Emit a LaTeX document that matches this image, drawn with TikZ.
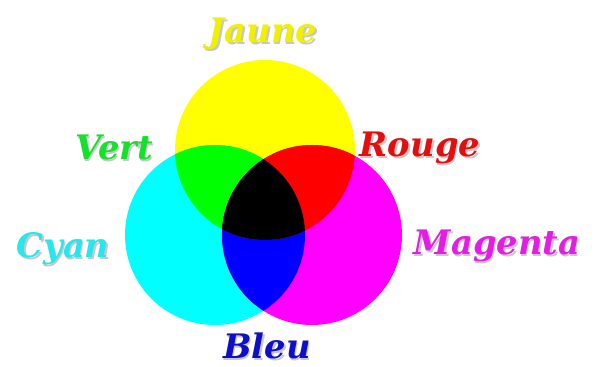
\documentclass[tikz,border=0pt]{standalone}
\usepackage{fontspec}
\usepackage{xcolor}
\usepackage{tikz}
\newfontfamily\lblfont{DejaVu Serif}
\definecolor{jau}{RGB}{255,255,0}
\definecolor{cya}{RGB}{0,255,255}
\definecolor{mag}{RGB}{255,0,255}
\definecolor{ver}{RGB}{0,255,0}
\definecolor{rou}{RGB}{255,0,0}
\definecolor{ble}{RGB}{0,0,255}
\tikzset{
  lbl/.style={anchor=base,inner sep=0pt,font=\lblfont\bfseries\itshape\fontsize{24}{24}\selectfont}
}
\newcommand{\shd}[1]{\makebox[0pt][l]{\kern1.1pt\raisebox{-1.1pt}{\textcolor{black!22}{#1}}}#1}
\newcommand{\rY}{(265,217) circle (90)}
\newcommand{\rC}{(215,132) circle (90)}
\newcommand{\rM}{(312,132) circle (90)}

\begin{document}
\begin{tikzpicture}[x=0.025cm,y=0.025cm]
\useasboundingbox (0,0) rectangle (600,367);
\fill[jau] \rY; \fill[cya] \rC; \fill[mag] \rM;
\begin{scope} \clip \rC; \fill[ver] \rY; \fill[ble] \rM; \end{scope}
\begin{scope} \clip \rM; \fill[rou] \rY; \end{scope}
\begin{scope} \clip \rY; \clip \rC; \fill[black] \rM; \end{scope}
\node[lbl,text={rgb,255:red,240;green,240;blue,0}] (jaune) at (263,324) {\shd{Jaune}};
\node[lbl,text={rgb,255:red,20;green,225;blue,40}] (vert) at (114,207) {\shd{Vert}};
\node[lbl,text={rgb,255:red,225;green,15;blue,15}] (rouge) at (420,210) {\shd{Rouge}};
\node[lbl,text={rgb,255:red,40;green,230;blue,235}] (cyan) at (63,109) {\shd{Cyan}};
\node[lbl,text={rgb,255:red,225;green,30;blue,225}] (magenta) at (497,112) {\shd{Magenta}};
\node[lbl,text={rgb,255:red,15;green,15;blue,200}] (bleu) at (267,8) {\shd{Bleu}};
\end{tikzpicture}
\end{document}
